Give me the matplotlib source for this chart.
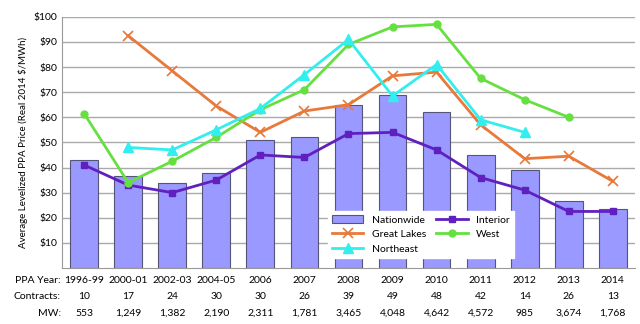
import matplotlib
matplotlib.use("Agg")
import matplotlib.pyplot as plt
import numpy as np
from matplotlib.transforms import blended_transform_factory
from matplotlib import font_manager

names = {f.name for f in font_manager.fontManager.ttflist}
fam = 'Liberation Sans Narrow' if 'Liberation Sans Narrow' in names else 'Lato'
plt.rcParams['font.family'] = [fam, 'DejaVu Sans']

years = ["1996-99", "2000-01", "2002-03", "2004-05", "2006", "2007", "2008",
         "2009", "2010", "2011", "2012", "2013", "2014"]
contracts = ["10", "17", "24", "30", "30", "26", "39", "49", "48", "42", "14", "26", "13"]
mw = ["553", "1,249", "1,382", "2,190", "2,311", "1,781", "3,465", "4,048",
      "4,642", "4,572", "985", "3,674", "1,768"]

nationwide = [43, 36.5, 34, 38, 51, 52, 65, 69, 62, 45, 39, 26.5, 23.5]
interior = [41, 33, 30, 35, 45, 44, 53.5, 54, 47, 36, 31, 22.5, 22.5]
great_lakes = [None, 92.5, 78.5, 64.5, 54, 62.5, 65, 76.5, 78, 57, 43.5, 44.5, 34.5]
west = [61.5, 34, 42.5, 52, 63, 71, 89, 96, 97, 75.5, 67, 60, None]
northeast = [None, 48, 47, 55, 63.5, 77, 91, 68.5, 81, 59, 54, None, None]

def arr(v):
    return np.array([np.nan if x is None else x for x in v], dtype=float)

fs = 9 if fam == 'Liberation Sans Narrow' else 7.5

fig = plt.figure(figsize=(6.4, 3.24), dpi=100)
ax = fig.add_axes([0.097, 0.173, 0.895, 0.775])
x = np.arange(len(years))

b = ax.bar(x, nationwide, width=0.63, color='#9999FF', edgecolor='#555577', linewidth=0.8,
           label='Nationwide', zorder=2)
l1, = ax.plot(x, arr(interior), color='#6020C0', marker='s', markersize=5, lw=2,
              label='Interior', zorder=3)
l2, = ax.plot(x, arr(great_lakes), color='#E8793A', marker='x', markersize=7, mew=1.2, lw=2,
              label='Great Lakes', zorder=3)
l3, = ax.plot(x, arr(west), color='#66E040', marker='o', markersize=5, lw=2,
              label='West', zorder=3)
l4, = ax.plot(x, arr(northeast), color='#33EEEE', marker='^', markersize=7, lw=2,
              label='Northeast', zorder=3)

ax.set_xlim(-0.5, len(years) - 0.5)
ax.set_ylim(0, 100)
ax.set_yticks(np.arange(10, 101, 10))
ax.set_yticklabels([f"${v}" for v in range(10, 101, 10)], fontsize=fs)
ax.yaxis.grid(True, color='#AAAAAA', lw=1)
ax.set_axisbelow(True)
ax.tick_params(axis='both', length=0)
ax.set_xticks([])
for s in ['top', 'right']:
    ax.spines[s].set_visible(False)
ax.spines['left'].set_color('#999999')
ax.spines['bottom'].set_color('#999999')
ax.set_ylabel('Average Levelized PPA Price (Real 2014 $/MWh)', fontsize=fs - 0.5)

tr = blended_transform_factory(ax.transData, ax.transAxes)
rows = [("PPA Year:", years, -0.05), ("Contracts:", contracts, -0.115), ("MW:", mw, -0.18)]
for lab, vals, yy in rows:
    ax.text(-0.53, yy, lab, transform=tr, ha='right', va='center', fontsize=fs)
    for i, v in enumerate(vals):
        ax.text(i, yy, v, transform=tr, ha='center', va='center', fontsize=fs)

h = [b, l2, l4, l1, l3]
lab = ['Nationwide', 'Great Lakes', 'Northeast', 'Interior', 'West']
leg = ax.legend(h, lab, ncol=2, loc='lower left', bbox_to_anchor=(0.455, 0.02),
                fontsize=fs, frameon=True, framealpha=1, edgecolor='white',
                fancybox=False, handlelength=3, columnspacing=1.0,
                labelspacing=0.5, borderpad=0.4)
leg.set_zorder(5)

fig.savefig('out.png', dpi=100)
